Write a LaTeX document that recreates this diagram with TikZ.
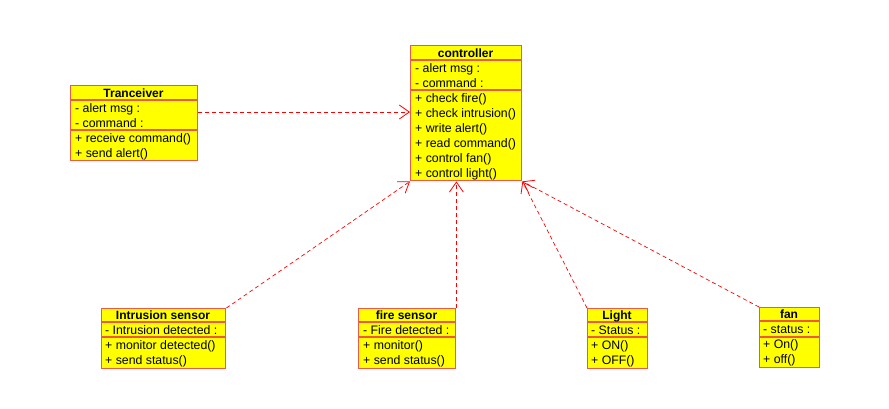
\documentclass[tikz,border=0pt]{standalone}
\usepackage{fontspec}
\setmainfont{Liberation Sans}
\usetikzlibrary{arrows.meta}
\definecolor{umlred}{RGB}{238,88,70}
\definecolor{umlyellow}{RGB}{255,255,0}
\tikzset{
  classbox/.style={draw=umlred, fill=umlyellow, line width=1.4pt, inner sep=0pt, anchor=north west},
  sepline/.style={draw=umlred, line width=1.4pt},
  ttl/.style={font=\fontsize{12}{14}\selectfont\bfseries, inner sep=0pt, anchor=base},
  member/.style={font=\fontsize{12.3}{14}\selectfont, inner sep=0pt, anchor=base west},
  dep/.style={draw=red, dash pattern=on 4pt off 3pt, line width=0.7pt,
    -{Straight Barb[length=10pt,width=14pt,line width=0.8pt]}}
}
\begin{document}
\begin{tikzpicture}[x=1pt,y=-1pt]
\useasboundingbox (0,0) rectangle (889,408);

% controller
\node[classbox, minimum width=111pt, minimum height=135pt] (ctrl) at (410,45) {};
\draw[sepline] (410,60) -- (521,60);
\draw[sepline] (410,90) -- (521,90);
\node[ttl] (ctrlT) at (465.5,57) {controller};
\node[member] (c1) at (415,72.5) {- alert msg :};
\node[member] (c2) at (415,87.5) {- command :};
\node[member] (c3) at (415,102.5) {+ check fire()};
\node[member] (c4) at (415,117.5) {+ check intrusion()};
\node[member] (c5) at (415,132.5) {+ write alert()};
\node[member] (c6) at (415,147.5) {+ read command()};
\node[member] (c7) at (415,162.5) {+ control fan()};
\node[member] (c8) at (415,177.5) {+ control light()};

% Tranceiver
\node[classbox, minimum width=127pt, minimum height=75pt] (trx) at (70,85) {};
\draw[sepline] (70,100) -- (197,100);
\draw[sepline] (70,130) -- (197,130);
\node[ttl] (trxT) at (133.5,97) {Tranceiver};
\node[member] (t1) at (75,112.5) {- alert msg :};
\node[member] (t2) at (75,127.5) {- command :};
\node[member] (t3) at (75,142.5) {+ receive command()};
\node[member] (t4) at (75,157.5) {+ send alert()};

% Intrusion sensor
\node[classbox, minimum width=124pt, minimum height=60pt] (intr) at (101,308) {};
\draw[sepline] (101,322) -- (225,322);
\draw[sepline] (101,337) -- (225,337);
\node[ttl] (intrT) at (163,319.5) {Intrusion sensor};
\node[member] (i1) at (105,334.5) {- Intrusion detected :};
\node[member] (i2) at (105,349.5) {+ monitor detected()};
\node[member] (i3) at (105,364.5) {+ send status()};

% fire sensor
\node[classbox, minimum width=97pt, minimum height=60pt] (fire) at (358,308) {};
\draw[sepline] (358,322) -- (455,322);
\draw[sepline] (358,337) -- (455,337);
\node[ttl] (fireT) at (406.5,319.5) {fire sensor};
\node[member] (f1) at (363,334.5) {- Fire detected :};
\node[member] (f2) at (363,349.5) {+ monitor()};
\node[member] (f3) at (363,364.5) {+ send status()};

% Light
\node[classbox, minimum width=60pt, minimum height=60pt] (light) at (587,308) {};
\draw[sepline] (587,322) -- (647,322);
\draw[sepline] (587,337) -- (647,337);
\node[ttl] (lightT) at (617,319.5) {Light};
\node[member] (l1) at (591,334.5) {- Status :};
\node[member] (l2) at (591,349.5) {+ ON()};
\node[member] (l3) at (591,364.5) {+ OFF()};

% fan
\node[classbox, minimum width=60pt, minimum height=60pt] (fan) at (759,307) {};
\draw[sepline] (759,321) -- (819,321);
\draw[sepline] (759,337) -- (819,337);
\node[ttl] (fanT) at (789,318.5) {fan};
\node[member] (n1) at (763,333.5) {- status :};
\node[member] (n2) at (763,348.5) {+ On()};
\node[member] (n3) at (763,363.5) {+ off()};

% dependencies
\draw[dep] (trx.east |- 0,112) -- (ctrl.west |- 0,112);
\draw[dep] (intr.north east) -- (ctrl.south west);
\draw[dep] (fire.north east) -- (fire.north east |- ctrl.south);
\draw[dep] (light.north west) -- (ctrl.south east);
\draw[dep] (fan.north west) -- (ctrl.south east);
\end{tikzpicture}
\end{document}
